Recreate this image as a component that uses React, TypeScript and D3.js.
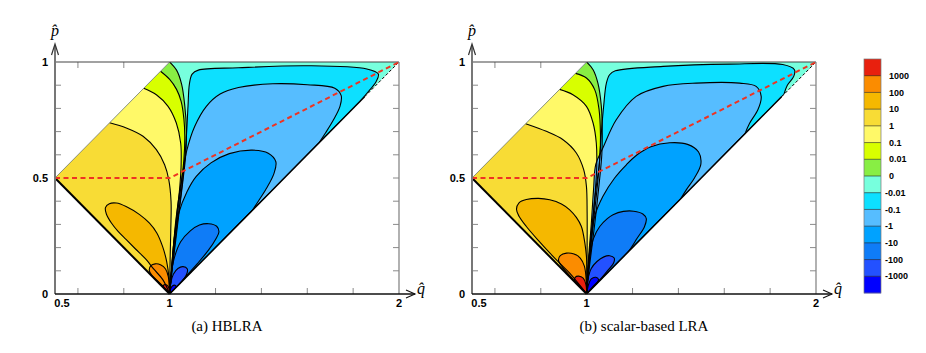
import React from "react";
import * as d3 from "d3";

type Pt = [number, number];

// ---- colour scale (top to bottom) ----
const levelLabels = ["1000", "100", "10", "1", "0.1", "0.01", "0", "-0.01", "-0.1", "-1", "-10", "-100", "-1000"];
const paletteColors = ["#e8200e", "#fb8c00", "#f5b800", "#f8dc35", "#fff968", "#d8ff00", "#88ee44", "#77ffdd", "#0de0ff", "#56bdff", "#00a2ff", "#0f7cf7", "#2351ff", "#0000ff"];

// ---- axes ----
const xTickValues = [0.6, 0.8, 1.2, 1.4, 1.6, 1.8];
const xLabelValues = [0.5, 1, 2];
const yTickValues = [0.1, 0.2, 0.3, 0.4, 0.5, 0.6, 0.7, 0.8, 0.9];
const yLabelValues = [0, 0.5, 1];
const domainCorners: Pt[] = [[0.5, 0.5], [1, 1], [2, 1], [1, 0]];
const ratioLine: Pt[] = [[0.5, 0.5], [1, 0.5], [2, 1]];

// ---- panel (a) HBLRA contours ----
const aLevel0: Pt[] = [[1, 1], [1.03, 0.965], [1.052, 0.905], [1.066, 0.81], [1.073, 0.71], [1.07, 0.6], [1.058, 0.49], [1.042, 0.36], [1.025, 0.22], [1.01, 0.1], [1, 0]];
const aLevel001: Pt[] = [[0.96, 0.96], [1.0, 0.925], [1.03, 0.882], [1.05, 0.83], [1.062, 0.755], [1.066, 0.68], [1.062, 0.58], [1.05, 0.47], [1.035, 0.35], [1.02, 0.22], [1.008, 0.1], [1, 0]];
const aLevel01: Pt[] = [[0.887, 0.887], [0.942, 0.859], [0.993, 0.809], [1.029, 0.737], [1.048, 0.651], [1.05, 0.56], [1.044, 0.46], [1.032, 0.35], [1.018, 0.22], [1.007, 0.1], [1, 0]];
const aLevel1: Pt[] = [[0.738, 0.738], [0.811, 0.716], [0.884, 0.68], [0.942, 0.622], [0.978, 0.557], [0.996, 0.493], [1.006, 0.4], [1.005, 0.28], [1.002, 0.15], [1, 0]];
const aLobe10: Pt[] = [[1, 0], [0.97, 0.062], [0.93, 0.108], [0.898, 0.148], [0.85, 0.195], [0.811, 0.234], [0.775, 0.27], [0.746, 0.306], [0.724, 0.345], [0.72, 0.372], [0.737, 0.389], [0.768, 0.392], [0.81, 0.377], [0.869, 0.342], [0.912, 0.305], [0.944, 0.263], [0.969, 0.205], [0.987, 0.14], [0.997, 0.07], [1, 0]];
const aLobe100: Pt[] = [[1, 0], [0.975, 0.03], [0.948, 0.055], [0.922, 0.08], [0.911, 0.102], [0.918, 0.122], [0.937, 0.13], [0.962, 0.125], [0.982, 0.108], [0.994, 0.075], [1, 0]];
const aLobe1000: Pt[] = [[1, 0], [0.986, 0.016], [0.972, 0.03], [0.976, 0.04], [0.99, 0.037], [0.998, 0.022], [1, 0]];
const aLoopM001: Pt[] = [[1, 0], [1.012, 0.12], [1.03, 0.28], [1.048, 0.42], [1.061, 0.53], [1.072, 0.665], [1.08, 0.809], [1.086, 0.905], [1.098, 0.948], [1.125, 0.965], [1.3, 0.975], [1.6, 0.984], [1.86, 0.97], [1.91, 0.948], [1.9, 0.915], [1.86, 0.865], [1.83, 0.83]];
const aLoopM01: Pt[] = [[1, 0], [1.01, 0.12], [1.025, 0.3], [1.045, 0.45], [1.058, 0.53], [1.075, 0.62], [1.109, 0.722], [1.16, 0.809], [1.22, 0.862], [1.3, 0.89], [1.45, 0.906], [1.6, 0.902], [1.72, 0.887], [1.748, 0.855], [1.743, 0.81], [1.715, 0.752], [1.68, 0.695], [1.65, 0.65]];
const aLoopM1: Pt[] = [[1, 0], [1.008, 0.1], [1.02, 0.24], [1.04, 0.35], [1.075, 0.44], [1.116, 0.507], [1.18, 0.565], [1.26, 0.605], [1.36, 0.62], [1.43, 0.607], [1.463, 0.57], [1.455, 0.52], [1.425, 0.46], [1.39, 0.405], [1.36, 0.36]];
const aLobeM10: Pt[] = [[1, 0], [1.006, 0.08], [1.02, 0.155], [1.048, 0.225], [1.09, 0.272], [1.13, 0.297], [1.17, 0.303], [1.205, 0.292], [1.215, 0.268], [1.2, 0.235], [1.17, 0.19], [1.12, 0.13], [1.07, 0.075], [1.035, 0.035], [1, 0]];
const aLobeM100: Pt[] = [[1, 0], [1.004, 0.045], [1.016, 0.085], [1.036, 0.11], [1.058, 0.118], [1.077, 0.108], [1.074, 0.085], [1.055, 0.055], [1.028, 0.025], [1, 0]];
const aLobeM1000: Pt[] = [[1, 0], [1.004, 0.022], [1.013, 0.036], [1.026, 0.036], [1.027, 0.024], [1.014, 0.01], [1, 0]];

// ---- panel (b) scalar-based LRA contours ----
const bLevel0: Pt[] = [[1, 1], [1.028, 0.967], [1.049, 0.909], [1.064, 0.809], [1.068, 0.694], [1.066, 0.6], [1.056, 0.49], [1.042, 0.36], [1.025, 0.22], [1.01, 0.1], [1, 0]];
const bLevel001: Pt[] = [[0.951, 0.951], [0.999, 0.931], [1.035, 0.881], [1.054, 0.795], [1.06, 0.694], [1.058, 0.6], [1.048, 0.48], [1.034, 0.35], [1.02, 0.22], [1.008, 0.1], [1, 0]];
const bLevel01: Pt[] = [[0.882, 0.882], [0.94, 0.859], [0.999, 0.809], [1.028, 0.737], [1.042, 0.651], [1.044, 0.55], [1.038, 0.45], [1.028, 0.34], [1.016, 0.22], [1.006, 0.1], [1, 0]];
const bLevel1: Pt[] = [[0.734, 0.734], [0.824, 0.701], [0.897, 0.665], [0.955, 0.608], [0.987, 0.536], [0.999, 0.464], [1.002, 0.35], [1.002, 0.2], [1, 0]];
const bLobe10: Pt[] = [[1, 0], [0.96, 0.05], [0.926, 0.09], [0.88, 0.135], [0.839, 0.177], [0.79, 0.23], [0.737, 0.291], [0.705, 0.335], [0.694, 0.365], [0.705, 0.393], [0.737, 0.407], [0.79, 0.412], [0.839, 0.406], [0.89, 0.388], [0.926, 0.363], [0.955, 0.33], [0.977, 0.291], [0.992, 0.22], [1.0, 0.148], [1.001, 0.07], [1, 0]];
const bLobe100: Pt[] = [[1, 0], [0.96, 0.04], [0.93, 0.075], [0.895, 0.115], [0.877, 0.145], [0.885, 0.165], [0.912, 0.176], [0.945, 0.172], [0.972, 0.155], [0.99, 0.12], [0.998, 0.06], [1, 0]];
const bLobe1000: Pt[] = [[1, 0], [0.975, 0.03], [0.948, 0.055], [0.95, 0.072], [0.965, 0.077], [0.985, 0.068], [0.997, 0.04], [1, 0]];
const bLoopM001: Pt[] = [[1, 0], [1.01, 0.15], [1.025, 0.3], [1.04, 0.45], [1.054, 0.55], [1.064, 0.694], [1.074, 0.809], [1.086, 0.909], [1.1, 0.945], [1.125, 0.962], [1.333, 0.981], [1.623, 0.991], [1.855, 0.989], [1.906, 0.967], [1.903, 0.938], [1.875, 0.9], [1.86, 0.86]];
const bLoopM01: Pt[] = [[1, 0], [1.008, 0.15], [1.02, 0.3], [1.03, 0.45], [1.04, 0.56], [1.071, 0.63], [1.129, 0.751], [1.216, 0.852], [1.333, 0.895], [1.478, 0.909], [1.667, 0.909], [1.739, 0.895], [1.761, 0.852], [1.747, 0.795], [1.71, 0.735], [1.69, 0.69]];
const bLoopM1: Pt[] = [[1, 0], [1.006, 0.1], [1.018, 0.22], [1.035, 0.335], [1.071, 0.421], [1.122, 0.5], [1.173, 0.557], [1.22, 0.6], [1.28, 0.635], [1.362, 0.652], [1.44, 0.645], [1.488, 0.612], [1.498, 0.56], [1.47, 0.5], [1.435, 0.45], [1.41, 0.41]];
const bLobeM10: Pt[] = [[1, 0], [1.005, 0.08], [1.015, 0.17], [1.03, 0.24], [1.057, 0.291], [1.09, 0.325], [1.115, 0.342], [1.16, 0.356], [1.205, 0.357], [1.245, 0.345], [1.26, 0.325], [1.252, 0.29], [1.22, 0.24], [1.18, 0.18], [1.13, 0.125], [1.08, 0.075], [1.035, 0.033], [1, 0]];
const bLobeM100: Pt[] = [[1, 0], [1.005, 0.06], [1.02, 0.11], [1.045, 0.14], [1.075, 0.16], [1.1, 0.165], [1.12, 0.155], [1.118, 0.135], [1.095, 0.105], [1.065, 0.07], [1.03, 0.035], [1, 0]];
const bLobeM1000: Pt[] = [[1, 0], [1.008, 0.04], [1.02, 0.065], [1.04, 0.072], [1.052, 0.062], [1.04, 0.04], [1.02, 0.018], [1, 0]];

interface PanelData {
  leftLevels: [Pt[], number][];
  lobes: [Pt[], number][];
  rightLoops: [Pt[], number][];
  caption: string;
}

const panelA: PanelData = {
  leftLevels: [[aLevel0, 6], [aLevel001, 5], [aLevel01, 4], [aLevel1, 3]],
  lobes: [[aLobe10, 2], [aLobe100, 1], [aLobe1000, 0]],
  rightLoops: [[aLoopM001, 8], [aLoopM01, 9], [aLoopM1, 10]],
  caption: "(a) HBLRA",
};
const panelA2: [Pt[], number][] = [[aLobeM10, 11], [aLobeM100, 12], [aLobeM1000, 13]];
const panelB: PanelData = {
  leftLevels: [[bLevel0, 6], [bLevel001, 5], [bLevel01, 4], [bLevel1, 3]],
  lobes: [[bLobe10, 2], [bLobe100, 1], [bLobe1000, 0]],
  rightLoops: [[bLoopM001, 8], [bLoopM01, 9], [bLoopM1, 10]],
  caption: "(b) scalar-based LRA",
};
const panelB2: [Pt[], number][] = [[bLobeM10, 11], [bLobeM100, 12], [bLobeM1000, 13]];

const TICK_FONT = "'Liberation Sans', Arial, sans-serif";
const SERIF = "'Liberation Serif', 'Times New Roman', serif";

function Panel({ x0, x1, data, rightLobes, id }: { x0: number; x1: number; data: PanelData; rightLobes: [Pt[], number][]; id: string }) {
  const xs = d3.scaleLinear().domain([0.5, 2]).range([x0, x1]);
  const ys = d3.scaleLinear().domain([0, 1]).range([294, 62]);
  const curve = d3.line<Pt>().x((d) => xs(d[0])).y((d) => ys(d[1])).curve(d3.curveCatmullRom.alpha(0.5));
  const poly = d3.line<Pt>().x((d) => xs(d[0])).y((d) => ys(d[1]));
  const P = (q: number, p: number) => `${xs(q)},${ys(p)}`;

  const domainPath = poly(domainCorners) + "Z";
  const yTop = ys(1), yBot = ys(0);
  const axisEnd = x1 + 16;

  return (
    <g>
      <defs>
        <clipPath id={id}>
          <path d={domainPath} />
        </clipPath>
      </defs>
      {yTickValues.map((v) => (
        <g key={"yt" + v} stroke="#8a8a8a" strokeWidth={1}>
          <line x1={x0} x2={x0 + 6} y1={ys(v)} y2={ys(v)} />
          <line x1={x1 - 6} x2={x1} y1={ys(v)} y2={ys(v)} />
        </g>
      ))}
      {xTickValues.map((v) => (
        <g key={"xt" + v} stroke="#8a8a8a" strokeWidth={1}>
          <line x1={xs(v)} x2={xs(v)} y1={yBot} y2={yBot - 6} />
          <line x1={xs(v)} x2={xs(v)} y1={yTop} y2={yTop + 6} />
        </g>
      ))}
      <g clipPath={`url(#${id})`}>
        <path d={domainPath} fill={paletteColors[7]} />
        {data.leftLevels.map(([pts, c], i) => (
          <path key={"lf" + i} d={curve(pts) + `L${P(0.5, 0.5)}Z`} fill={paletteColors[c]} />
        ))}
        {data.lobes.map(([pts, c], i) => (
          <path key={"lb" + i} d={curve(pts) + "Z"} fill={paletteColors[c]} />
        ))}
        {data.rightLoops.map(([pts, c], i) => (
          <path key={"rl" + i} d={curve(pts) + `L${P(1, 0)}Z`} fill={paletteColors[c]} />
        ))}
        {rightLobes.map(([pts, c], i) => (
          <path key={"rb" + i} d={curve(pts) + "Z"} fill={paletteColors[c]} />
        ))}
        <g fill="none" stroke="#000" strokeWidth={1.1}>
          {data.leftLevels.map(([pts], i) => (
            <path key={"ls" + i} d={curve(pts) || ""} />
          ))}
          {data.lobes.map(([pts], i) => (
            <path key={"lbs" + i} d={curve(pts) || ""} />
          ))}
          {data.rightLoops.map(([pts], i) => (
            <path key={"rls" + i} d={curve(pts) + `L${P(1, 0)}`} />
          ))}
          {rightLobes.map(([pts], i) => (
            <path key={"rbs" + i} d={curve(pts) || ""} />
          ))}
        </g>
      </g>
      <line x1={xs(0.5)} y1={ys(0.5)} x2={xs(1)} y2={ys(1)} stroke="#777" strokeWidth={0.8} />
      <line x1={xs(0.5)} y1={ys(0.5)} x2={xs(1)} y2={ys(0)} stroke="#000" strokeWidth={2} />
      <line x1={xs(1)} y1={ys(0)} x2={xs(1.85)} y2={ys(0.85)} stroke="#000" strokeWidth={1.4} />
      <line x1={xs(1.85)} y1={ys(0.85)} x2={xs(2)} y2={ys(1)} stroke="#000" strokeWidth={1} strokeDasharray="3,2" />
      <line x1={x0} x2={x1} y1={yTop} y2={yTop} stroke="#444" strokeWidth={1.2} />
      <line x1={x1} x2={x1} y1={yTop} y2={yBot} stroke="#888" strokeWidth={1.3} />
      <path d={poly(ratioLine) || ""} fill="none" stroke="#ee3322" strokeWidth={2} strokeDasharray="5,3.5" />
      <line x1={x0} x2={x0} y1={yBot} y2={45} stroke="#777" strokeWidth={2} />
      <path d={`M${x0 - 3.5},${55} L${x0},${44} L${x0 + 3.5},${55}`} fill="none" stroke="#333" strokeWidth={1.2} />
      <line x1={x0} x2={axisEnd} y1={yBot} y2={yBot} stroke="#111" strokeWidth={1.6} />
      <path d={`M${axisEnd - 9},${yBot - 4} L${axisEnd},${yBot} L${axisEnd - 9},${yBot + 4}`} fill="none" stroke="#111" strokeWidth={1.1} />
      {yLabelValues.map((v) => (
        <text key={"yl" + v} x={x0 - 7} y={ys(v)} dy="0.35em" textAnchor="end" fontFamily={TICK_FONT} fontWeight="bold" fontSize={11}>
          {String(v)}
        </text>
      ))}
      {xLabelValues.map((v) => (
        <text key={"xl" + v} x={v === 0.5 ? xs(v) + 7 : xs(v)} y={307} textAnchor="middle" fontFamily={TICK_FONT} fontWeight="bold" fontSize={11}>
          {String(v)}
        </text>
      ))}
      <text x={x0} y={36} textAnchor="middle" fontFamily={SERIF} fontStyle="italic" fontSize={16}>
        p̂
      </text>
      <text x={axisEnd + 2} y={294} fontFamily={SERIF} fontStyle="italic" fontSize={16}>
        q̂
      </text>
      <text x={(x0 + x1) / 2} y={331} textAnchor="middle" fontFamily={SERIF} fontSize={15}>
        {data.caption}
      </text>
    </g>
  );
}

function ColorBar() {
  const yb = d3.scaleLinear().domain([0, paletteColors.length]).range([59, 293]);
  const xL = 864, w = 17;
  return (
    <g>
      {paletteColors.map((c, i) => (
        <rect key={c} x={xL} y={yb(i)} width={w} height={yb(i + 1) - yb(i) + 0.3} fill={c} />
      ))}
      {levelLabels.map((l, i) => (
        <g key={l}>
          <line x1={xL} x2={xL + w} y1={yb(i + 1)} y2={yb(i + 1)} stroke="#222" strokeOpacity={0.75} strokeWidth={0.8} />
          <text x={l.startsWith("-") ? 885 : 889} y={yb(i + 1)} dy="0.35em" fontFamily={TICK_FONT} fontWeight="bold" fontSize={9}>
            {l}
          </text>
        </g>
      ))}
      <rect x={xL} y={59} width={w} height={234} fill="none" stroke="#777" strokeWidth={0.7} />
    </g>
  );
}

export default function App() {
  return (
    <svg width={926} height={353} viewBox="0 0 926 353" style={{ position: "absolute", left: 0, top: 0, background: "#fff" }}>
      <rect width={926} height={353} fill="#fff" />
      <Panel x0={55} x1={399} data={panelA} rightLobes={panelA2} id="clipA" />
      <Panel x0={472} x1={816} data={panelB} rightLobes={panelB2} id="clipB" />
      <ColorBar />
    </svg>
  );
}
